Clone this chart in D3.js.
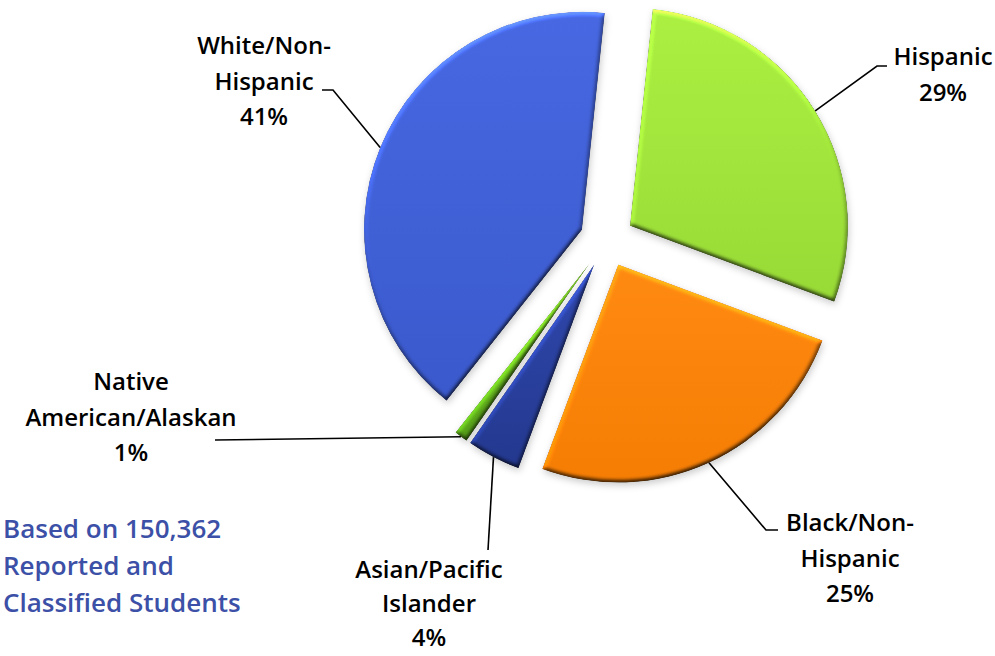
<!DOCTYPE html>
<html>
<head>
<meta charset="utf-8">
<script src="https://cdn.jsdelivr.net/npm/d3@7"></script>
<style>
  body { margin: 0; background: #ffffff; }
  svg { display: block; }
</style>
</head>
<body>
<svg id="chart" width="995" height="656"></svg>
<script>
// Student population by race / ethnicity (share of total, %)
const categories = ["Hispanic", "Black/Non-Hispanic", "Asian/Pacific Islander", "Native American/Alaskan", "White/Non-Hispanic"];
const shares = [29, 25, 4, 1, 41];
const labelLines = [
  ["Hispanic"],
  ["Black/Non-", "Hispanic"],
  ["Asian/Pacific", "Islander"],
  ["Native", "American/Alaskan"],
  ["White/Non-", "Hispanic"]
];
const noteLines = ["Based on 150,362", "Reported and", "Classified Students"];

// Slice fills: [top, bottom] of each vertical gradient
const sliceColors = [
  ["#acf042", "#98da36"],
  ["#ff8a12", "#f57d04"],
  ["#3048ae", "#23388e"],
  ["#78c426", "#559f18"],
  ["#4768e2", "#3a59cc"]
];

// Label placement: text centre x, first baseline y, line spacing, and leader path after the arc point
const labelLayout = [
  { x: 943, y: 65,  gap: 35.5, leader: [[877, 66], [887, 66]] },
  { x: 850, y: 531, gap: 35.5, leader: [[766, 530], [778, 530]] },
  { x: 429, y: 578, gap: 34,   leader: [[488, 550]] },
  { x: 131, y: 390, gap: 35.5, leader: [[215, 440]] },
  { x: 264, y: 54,  gap: 35.5, leader: [[333, 90], [322, 90]] }
];

const W = 995, H = 656;
const cx = 607, cy = 240, R = 218, explode = 27;
const startDeg = 6;

const svg = d3.select("#chart");
svg.append("rect").attr("width", W).attr("height", H).attr("fill", "#ffffff");

const defs = svg.append("defs");

sliceColors.forEach((c, i) => {
  const g = defs.append("linearGradient")
    .attr("id", "grad" + i)
    .attr("x1", 0).attr("y1", 0).attr("x2", 0).attr("y2", 1);
  g.append("stop").attr("offset", "0%").attr("stop-color", c[0]);
  g.append("stop").attr("offset", "100%").attr("stop-color", c[1]);
});

// Soft bevel lighting plus drop shadow for each slice
const elev = 40;
const f = defs.append("filter").attr("id", "bevel")
  .attr("x", "-15%").attr("y", "-15%").attr("width", "130%").attr("height", "130%")
  .attr("color-interpolation-filters", "sRGB");
f.append("feGaussianBlur").attr("in", "SourceAlpha").attr("stdDeviation", 2.2).attr("result", "blur");
const dl = f.append("feDiffuseLighting").attr("in", "blur")
  .attr("surfaceScale", 1.6).attr("diffuseConstant", 1)
  .attr("lighting-color", "#ffffff").attr("result", "light");
dl.append("feDistantLight").attr("azimuth", 255).attr("elevation", elev);
f.append("feComposite").attr("in", "SourceGraphic").attr("in2", "light")
  .attr("operator", "arithmetic")
  .attr("k1", 1 / Math.sin(elev * Math.PI / 180)).attr("k2", 0).attr("k3", 0).attr("k4", 0)
  .attr("result", "lit");
f.append("feComposite").attr("in", "lit").attr("in2", "SourceAlpha")
  .attr("operator", "in").attr("result", "litIn");
f.append("feGaussianBlur").attr("in", "SourceAlpha").attr("stdDeviation", 3.5).attr("result", "sblur");
f.append("feOffset").attr("in", "sblur").attr("dx", 1).attr("dy", 3).attr("result", "soff");
f.append("feFlood").attr("flood-color", "#000").attr("flood-opacity", 0.2).attr("result", "sflood");
f.append("feComposite").attr("in", "sflood").attr("in2", "soff").attr("operator", "in").attr("result", "shadow");
const merge = f.append("feMerge");
merge.append("feMergeNode").attr("in", "shadow");
merge.append("feMergeNode").attr("in", "litIn");

const rad = startDeg * Math.PI / 180;
const pie = d3.pie().sort(null).value(d => d).startAngle(rad).endAngle(rad + 2 * Math.PI);
const arcs = pie(shares);
const arc = d3.arc().innerRadius(0).outerRadius(R);

const root = svg.append("g").attr("transform", `translate(${cx},${cy})`);

function offsetOf(a) {
  const mid = (a.startAngle + a.endAngle) / 2;
  return [Math.sin(mid) * explode, -Math.cos(mid) * explode];
}

root.selectAll("path.slice")
  .data(arcs)
  .join("path")
  .attr("class", "slice")
  .attr("transform", d => { const o = offsetOf(d); return `translate(${o[0]},${o[1]})`; })
  .attr("d", arc)
  .attr("fill", (d, i) => `url(#grad${i})`)
  .attr("filter", "url(#bevel)");

// Leader lines: from the middle of each slice's rim to its label
const line = d3.line();
arcs.forEach((a, i) => {
  const mid = (a.startAngle + a.endAngle) / 2;
  const o = offsetOf(a);
  const p0 = [cx + o[0] + Math.sin(mid) * R, cy + o[1] - Math.cos(mid) * R];
  svg.append("path")
    .attr("d", line([p0, ...labelLayout[i].leader]))
    .attr("fill", "none")
    .attr("stroke", "#000")
    .attr("stroke-width", 1.6);
});

const font = "'Open Sans', 'Noto Sans', sans-serif";
const fontSize = 24;

arcs.forEach((a, i) => {
  const lay = labelLayout[i];
  const t = svg.append("text")
    .attr("text-anchor", "middle")
    .attr("font-family", font)
    .attr("font-weight", 600)
    .attr("font-size", fontSize)
    .attr("fill", "#000");
  const lines = labelLines[i].concat([shares[i] + "%"]);
  lines.forEach((s, j) => {
    t.append("tspan").attr("x", lay.x).attr("y", lay.y + j * lay.gap).text(s);
  });
});

const note = svg.append("text")
  .attr("font-family", font)
  .attr("font-weight", 600)
  .attr("font-size", 26)
  .attr("fill", "#3b50a6");
noteLines.forEach((s, j) => {
  note.append("tspan").attr("x", 3).attr("y", 538 + j * 37).text(s);
});
</script>
</body>
</html>
